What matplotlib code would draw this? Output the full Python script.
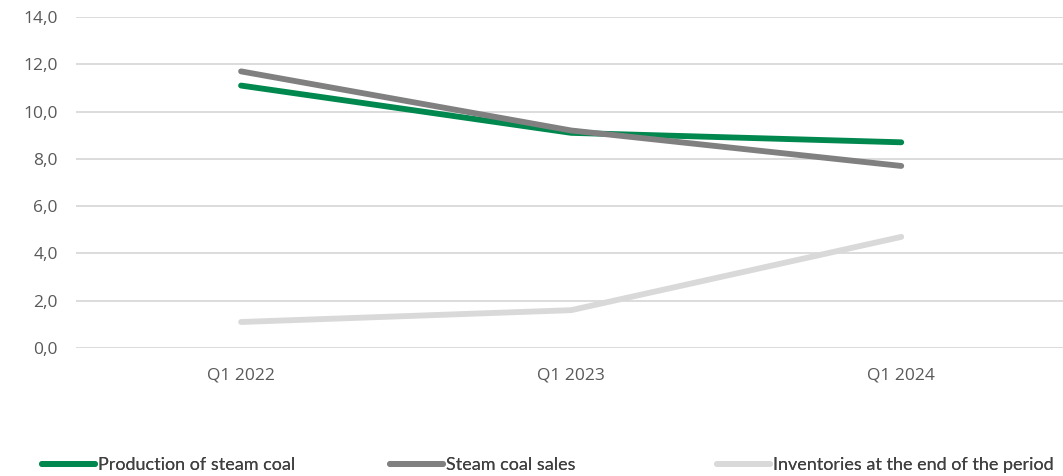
import matplotlib
matplotlib.use("Agg")
import matplotlib.pyplot as plt

categories = ["Q1 2022", "Q1 2023", "Q1 2024"]
production = [11.1, 9.1, 8.7]
sales = [11.7, 9.2, 7.7]
inventories = [1.1, 1.6, 4.7]
series_names = ["Production of steam coal", "Steam coal sales",
                "Inventories at the end of the period"]
colors = ["#00884F", "#808080", "#D9D9D9"]
yticks = [0, 2, 4, 6, 8, 10, 12, 14]

W, H = 1063, 476
fig = plt.figure(figsize=(W/100, H/100), dpi=100)
ax = fig.add_axes([76/W, 1 - 348/H, 1 - 76/W, (348-17)/H])

x = list(range(len(categories)))
handles = []
for vals, name, c in zip([production, sales, inventories], series_names, colors):
    ln, = ax.plot(x, vals, color=c, lw=4.2, solid_capstyle="round", label=name, zorder=3)
    handles.append(ln)

ax.set_xlim(-0.5, 2.49)
ax.set_ylim(0, 14)
ax.set_yticks(yticks)
ax.set_yticklabels([f"{v:.1f}".replace(".", ",") for v in yticks])
ax.set_xticks(x)
ax.set_xticklabels(categories)
ax.grid(axis="y", color="#D9D9D9", lw=1.3, zorder=0)
for s in ax.spines.values():
    s.set_visible(False)
ax.tick_params(axis="both", length=0, labelcolor="#595959", labelsize=12.5)
ax.tick_params(axis="y", pad=13)
ax.tick_params(axis="x", pad=14)
for lab in ax.get_xticklabels() + ax.get_yticklabels():
    lab.set_family(["Open Sans", "DejaVu Sans"])

# one legend entry per slot, placed like the reference
legend_x = [42, 390, 717]
for h, lx in zip(handles, legend_x):
    leg = fig.legend([h], [h.get_label()], loc="center left",
                     bbox_to_anchor=(lx/W, 1 - 465/H), frameon=False,
                     borderpad=0, borderaxespad=0, handlelength=2.95,
                     handletextpad=0.15,
                     prop={"family": ["Lato", "DejaVu Sans"], "size": 13})
    for t in leg.get_texts():
        t.set_color("#404040")
    for l in leg.get_lines():
        l.set_linewidth(4.2)
        l.set_solid_capstyle("round")
    fig.add_artist(leg)

fig.savefig("out.png", dpi=100)
